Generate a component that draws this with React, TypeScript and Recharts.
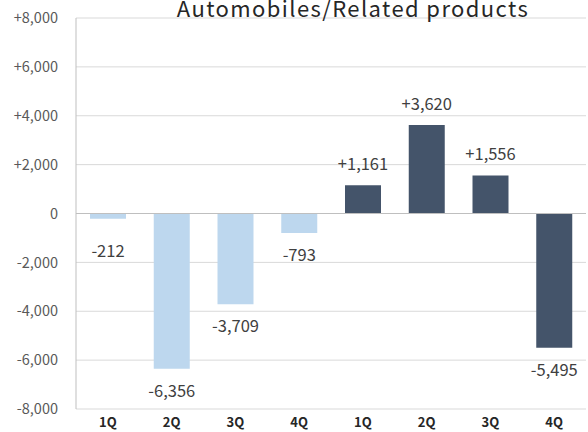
import React from 'react';
import {
  BarChart,
  Bar,
  XAxis,
  YAxis,
  CartesianGrid,
  ReferenceLine,
  Cell,
  LabelList
} from 'recharts';

const quarters = ['1Q', '2Q', '3Q', '4Q', '1Q', '2Q', '3Q', '4Q'];
const values = [-212, -6356, -3709, -793, 1161, 3620, 1556, -5495];
const years = [0, 0, 0, 0, 1, 1, 1, 1];
const yTicks = [-8000, -6000, -4000, -2000, 0, 2000, 4000, 6000, 8000];

const yearColors = ['#bdd7ee', '#44546a'];
const FONT = '"Noto Sans CJK JP", "Noto Sans", sans-serif';

const data = values.map((v, i) => ({ key: `q${i}`, label: quarters[i], value: v, year: years[i] }));

const fmt = (v: number) => (v > 0 ? '+' : '') + v.toLocaleString('en-US');

// value labels: above positive bars, below negative ones
const ValueLabel = (props: any) => {
  const { x, y, width, height, value } = props;
  const cx = x + width / 2;
  const top = Math.min(y, y + height);
  const bottom = Math.max(y, y + height);
  let ty: number;
  if (value >= 0) {
    ty = top - 15;
  } else {
    ty = Math.max(bottom + 28, top + 43);
  }
  return (
    <text x={cx} y={ty} textAnchor="middle" fill="#404040" fontSize={16.5} fontFamily={FONT}>
      {fmt(value)}
    </text>
  );
};

export default function App() {
  return (
    <div style={{ position: 'absolute', left: 0, top: 0, width: 588, height: 432, background: '#fff', overflow: 'hidden' }}>
      <BarChart
        width={588}
        height={432}
        data={data}
        margin={{ top: 18, right: 2, bottom: 0, left: 8 }}
        barSize={36}
      >
        <CartesianGrid vertical={false} stroke="#d9d9d9" />
        <XAxis
          dataKey="key"
          height={23}
          tickFormatter={(v: string, i: number) => quarters[i]}
          axisLine={false}
          tickLine={false}
          tick={{ fill: '#262626', fontSize: 13, fontWeight: 700, fontFamily: FONT }}
          tickMargin={3}
        />
        <YAxis
          domain={[-8000, 8000]}
          ticks={yTicks}
          width={68}
          tickFormatter={fmt}
          axisLine={{ stroke: '#bfbfbf' }}
          tickLine={false}
          tickSize={0}
          tickMargin={18}
          tick={{ fill: '#595959', fontSize: 14.5, fontFamily: FONT }}
        />
        <ReferenceLine y={0} stroke="#bfbfbf" />
        <Bar dataKey="value" isAnimationActive={false}>
          {data.map((d, i) => (
            <Cell key={`c-${i}`} fill={yearColors[d.year]} />
          ))}
          <LabelList dataKey="value" content={<ValueLabel />} />
        </Bar>
      </BarChart>
      <div
        style={{
          position: 'absolute',
          left: 0,
          width: 588,
          top: -7,
          textAlign: 'center',
          paddingLeft: 118,
          boxSizing: 'border-box',
          fontFamily: FONT,
          fontSize: 22,
          letterSpacing: 1.4,
          lineHeight: '28px',
          color: '#262626',
          whiteSpace: 'nowrap'
        }}
      >
        Automobiles/Related products
      </div>
    </div>
  );
}
